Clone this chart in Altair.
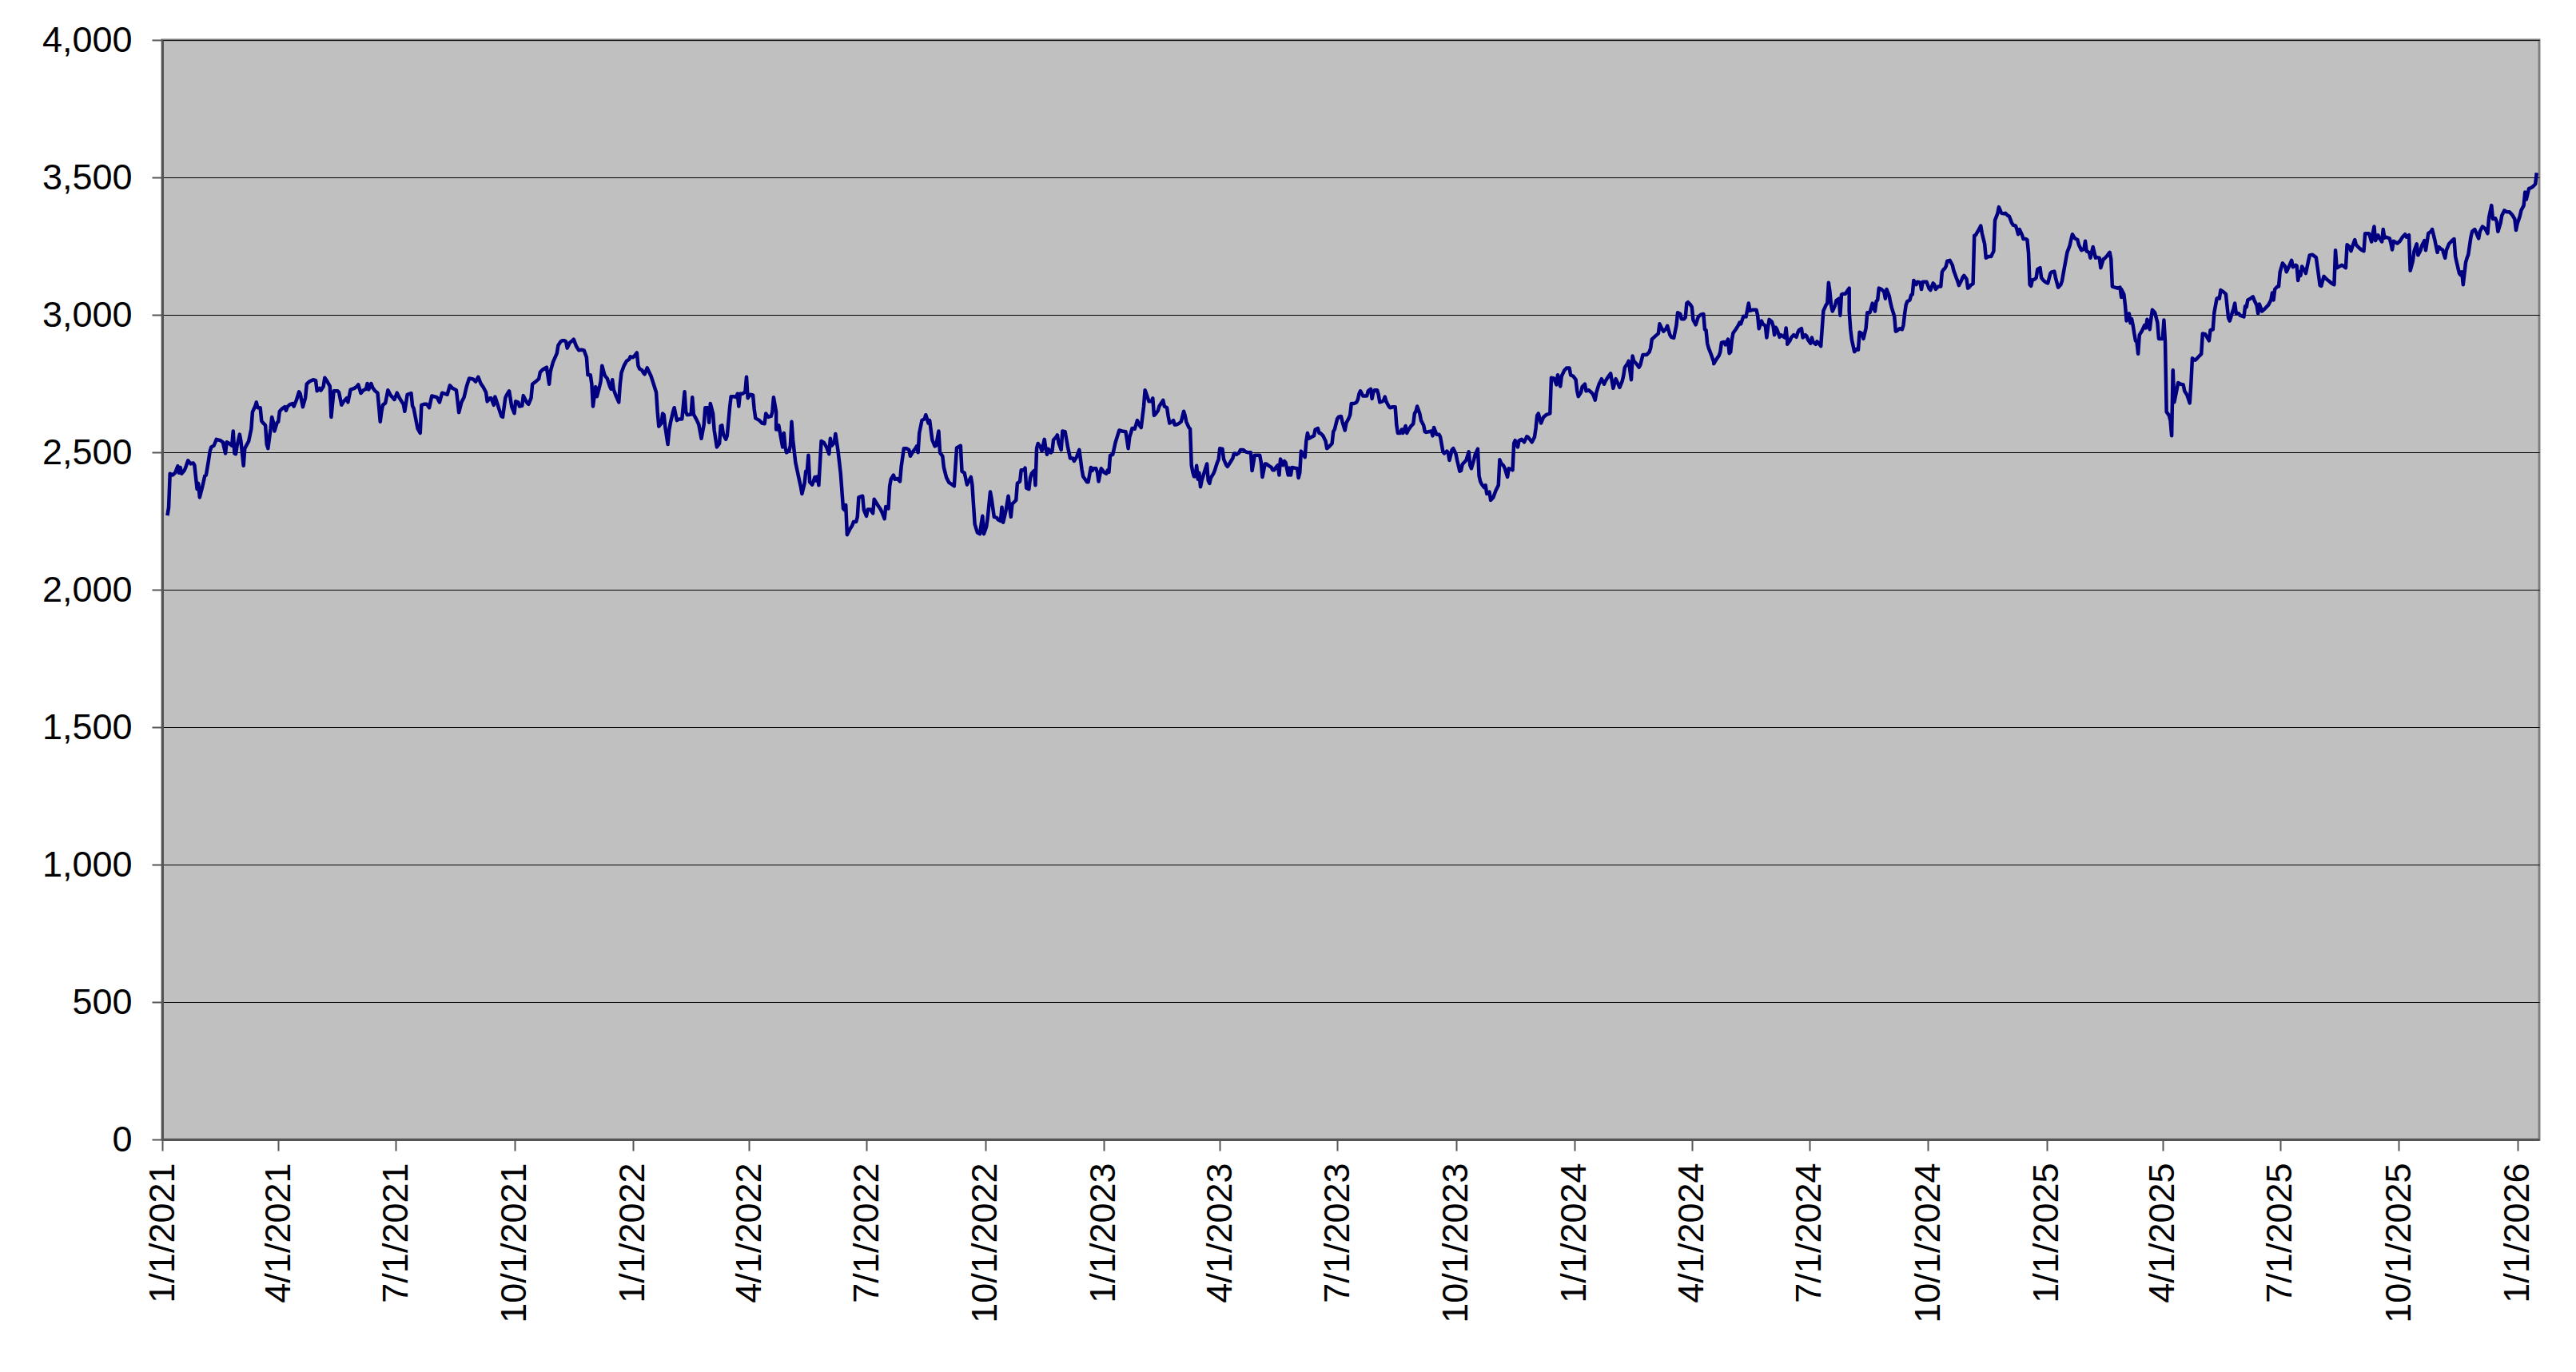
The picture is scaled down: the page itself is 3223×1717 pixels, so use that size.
import altair as alt
import pandas as pd

# (days since 2021-01-01, index value)
seg1 = [(4,2270),(5,2300),(6,2422),(8,2417),(10,2425),(12,2450),(13,2425),(14,2445),(15,2422),(17,2433),(18,2443),(20,2470),(22,2458),(24,2461),(25,2453),(27,2366),(28,2387),(29,2336),(31,2372),(33,2414),(34,2417),(36,2473),(37,2504),(38,2519),(40,2524),(42,2547),(45,2543),(47,2537),(49,2496),(50,2537),(52,2532),(54,2524),(55,2577),(56,2496),(57,2494),(58,2524),(60,2565),(61,2540),(63,2451),(64,2514),(67,2540),(69,2585),(70,2647),(72,2667),(73,2682),(74,2662),(76,2662),(77,2614),(78,2608),(80,2598),(81,2529),(82,2514),(84,2585),(85,2628),(86,2611),(87,2577),(89,2608),(90,2611),(91,2649),(93,2659),(95,2665),(96,2652),(97,2665),(99,2674),(101,2677),(102,2667),(104,2689),(106,2720),(107,2713),(109,2665),(111,2699),(112,2748),(114,2757),(117,2764),(119,2761),(120,2723),(122,2733),(123,2725),(125,2740),(126,2771),(128,2757),(130,2740),(131,2628),(133,2723),(136,2723),(137,2718),(139,2672),(141,2687),(143,2697),(144,2682),(146,2728),(149,2733),(151,2740),(152,2746),(154,2715),(156,2726),(158,2730),(159,2750),(160,2728),(162,2750),(163,2736),(165,2723),(167,2716),(168,2665),(169,2611),(170,2647),(171,2672),(173,2679),(175,2726),(177,2708),(180,2692),(182,2716),(184,2697),(186,2682),(187,2675),(188,2649),(190,2710),(193,2715),(194,2669),(195,2659),(197,2611),(198,2587),(200,2570),(201,2672),(203,2675),(205,2675),(207,2662),(209,2705),(213,2700),(215,2682),(217,2716),(219,2713),(221,2710),(223,2743),(225,2733),(228,2726),(230,2645),(232,2682),(234,2700),(236,2740),(238,2769),(241,2766),(243,2757),(245,2774),(247,2750),(249,2736),(251,2718),(252,2685),(254,2697),(255,2697),(257,2672),(258,2702),(259,2689),(261,2659),(263,2631),(264,2628),(266,2697),(267,2708),(269,2723),(271,2665),(273,2642),(274,2685),(276,2682),(277,2667),(279,2669),(280,2706),(282,2687),(283,2679),(284,2675),(286,2697),(287,2748),(290,2759),(292,2767),(293,2791),(295,2801),(298,2809),(300,2748),(301,2794),(303,2828),(306,2860),(307,2889),(309,2903),(310,2906)]

seg2 = [(312,2906),(313,2903),(314,2879),(316,2899),(318,2906),(319,2911),(321,2886),(323,2871),(325,2873),(327,2871),(329,2845),(330,2781),(332,2781),(333,2748),(334,2667),(336,2738),(337,2703),(339,2738),(340,2759),(341,2815),(343,2781),(344,2774),(345,2769),(347,2740),(348,2730),(349,2764),(350,2728),(352,2703),(354,2682),(355,2748),(356,2789),(358,2815),(360,2832),(362,2838),(363,2848),(365,2845),(366,2850),(368,2862),(369,2815),(370,2804),(372,2799),(373,2789),(374,2784),(376,2807),(377,2797),(379,2777),(381,2748),(383,2718),(384,2647),(385,2594),(387,2606),(388,2641),(389,2636),(390,2591),(392,2529),(393,2580),(394,2606),(396,2647),(397,2662),(399,2616),(401,2621),(403,2621),(405,2720),(406,2647),(407,2636),(410,2638),(411,2700),(412,2638),(414,2621),(416,2601),(418,2550),(420,2601),(421,2662),(422,2662),(423,2662),(424,2608),(425,2677),(427,2641),(428,2580),(430,2519),(432,2532),(433,2596),(434,2598),(435,2565),(437,2547),(438,2560),(440,2662),(441,2703),(443,2703),(445,2700),(446,2713),(447,2667),(448,2713),(450,2713),(452,2720),(453,2774),(454,2697),(456,2710),(458,2708),(459,2657),(460,2624),(463,2616),(465,2606),(467,2604),(468,2641),(470,2628),(472,2631),(473,2645),(474,2700),(476,2647),(476,2583),(478,2583),(478,2598),(480,2545),(481,2519),(482,2570),(483,2519),(484,2499),(486,2504),(487,2524),(488,2611),(489,2545),(491,2463),(494,2397),(495,2376),(496,2349),(498,2387),(499,2431),(500,2431),(501,2489),(502,2392),(504,2382),(506,2410),(507,2397),(508,2412),(509,2380),(510,2461),(511,2541),(513,2535),(515,2519),(517,2494),(518,2550),(519,2524),(521,2535),(522,2567),(524,2504),(526,2422),(528,2295),(529,2290),(530,2308),(531,2200),(533,2219),(535,2234),(536,2247),(538,2247),(539,2265),(540,2336),(543,2341),(544,2290),(546,2268),(547,2292),(549,2292),(551,2278),(552,2329),(555,2306),(557,2292),(558,2282),(560,2258),(561,2302),(563,2295),(564,2376),(565,2402),(567,2417),(568,2402),(570,2404),(572,2394),(573,2448),(575,2514),(577,2514),(579,2509),(580,2486),(582,2502),(584,2514),(585,2522),(586,2499),(587,2570),(589,2616),(591,2621),(592,2636),(594,2606),(595,2616),(597,2545),(599,2522),(600,2524),(602,2577),(603,2499),(605,2486),(606,2445),(608,2408),(610,2390),(612,2384),(614,2377),(616,2516),(619,2524)]

seg3 = [(620,2431),(622,2425),(624,2382),(625,2392),(627,2410),(628,2382),(629,2310),(630,2239),(632,2208),(634,2203),(635,2239),(636,2268),(637,2203),(639,2229),(640,2262),(642,2356),(643,2331),(645,2265),(647,2262),(648,2255),(650,2250),(651,2300),(652,2245),(654,2285),(656,2341),(657,2300),(658,2265),(659,2312),(661,2321),(662,2326),(663,2387),(665,2394),(666,2435),(668,2435),(669,2443),(670,2370),(672,2366),(673,2407),(674,2422),(676,2433),(677,2380),(678,2514),(679,2532),(681,2519),(682,2504),(684,2547),(685,2514),(686,2492),(687,2512),(689,2499),(690,2504),(691,2545),(693,2555),(694,2563),(695,2535),(697,2509),(698,2577),(700,2575),(702,2522),(704,2478),(706,2478),(707,2468),(709,2483),(710,2496),(711,2509),(713,2438),(714,2412),(717,2392),(718,2392),(720,2445),(721,2433),(722,2441),(724,2441),(725,2428),(726,2394),(728,2441),(729,2435),(730,2428),(732,2422),(733,2435),(734,2428),(735,2489),(737,2492),(739,2535),(741,2565),(742,2580),(744,2577),(747,2575),(748,2545),(749,2514),(750,2555),(751,2570),(752,2587),(754,2585),(755,2600),(756,2616),(758,2596),(759,2590),(761,2667),(762,2726),(763,2713),(765,2685),(767,2685),(768,2697),(769,2634),(770,2638),(772,2651),(773,2667),(775,2682),(776,2689),(777,2667),(779,2662),(780,2631),(781,2606),(783,2611),(784,2616),(785,2600),(786,2600),(788,2604),(790,2611),(792,2649),(793,2634),(794,2611),(796,2590),(797,2585),(798,2453),(799,2428),(800,2412),(801,2412),(802,2451),(803,2402),(804,2425),(805,2374),(806,2397),(808,2428),(810,2458),(811,2397),(812,2387),(813,2407),(815,2422),(816,2433),(818,2463),(819,2473),(820,2514),(821,2512),(822,2512),(823,2475),(825,2453),(826,2448),(828,2463),(830,2478),(831,2496),(832,2496),(833,2492),(835,2499),(836,2509),(838,2509),(840,2502),(842,2499),(844,2499),(845,2433),(847,2489),(849,2489),(851,2489),(852,2463),(853,2410),(855,2458),(856,2458),(858,2451),(860,2445),(861,2435),(862,2435),(864,2448),(865,2453),(866,2417),(867,2475),(869,2453),(870,2468),(871,2463),(873,2417),(874,2443),(875,2417),(876,2445),(878,2443),(880,2441),(881,2407),(882,2425),(883,2504),(885,2489),(886,2482),(887,2541),(888,2570),(889,2550),(891,2555),(893,2560),(894,2583),(896,2587),(897,2570),(898,2570),(900,2560),(902,2541),(903,2514),(905,2522),(907,2532),(908,2575),(909,2583),(911,2621),(912,2628),(914,2631),(915,2611),(917,2580),(918,2606),(920,2624),(921,2636),(922,2677)]

seg4 = [(924,2677),(926,2682),(927,2692),(928,2713),(929,2723),(931,2705),(932,2705),(934,2705),(935,2723),(937,2730),(938,2695),(939,2718),(940,2726),(942,2726),(943,2710),(944,2682),(946,2685),(947,2689),(948,2702),(949,2685),(951,2667),(952,2662),(954,2665),(956,2665),(957,2600),(958,2570),(960,2570),(961,2583),(962,2570),(964,2596),(965,2570),(966,2580),(968,2594),(970,2604),(971,2641),(972,2649),(973,2667),(975,2641),(976,2616),(978,2598),(979,2575),(980,2573),(982,2575),(984,2577),(985,2560),(986,2590),(988,2565),(990,2565),(991,2555),(993,2502),(994,2496),(996,2504),(997,2499),(998,2471),(1000,2509),(1001,2514),(1003,2494),(1004,2471),(1006,2431),(1007,2433),(1008,2455),(1009,2461),(1011,2471),(1013,2502),(1014,2453),(1015,2441),(1017,2473),(1018,2492),(1020,2512),(1021,2414),(1022,2394),(1023,2384),(1025,2372),(1026,2380),(1027,2349),(1029,2356),(1030,2326),(1032,2336),(1034,2361),(1036,2380),(1037,2473),(1038,2461),(1040,2451),(1041,2441),(1043,2410),(1044,2441),(1046,2438),(1047,2435),(1048,2532),(1049,2543),(1051,2519),(1052,2543),(1054,2547),(1056,2537),(1058,2557),(1059,2555),(1061,2543),(1062,2537),(1064,2555),(1065,2587),(1066,2634),(1067,2641),(1069,2606),(1071,2628),(1073,2636),(1076,2641),(1077,2771),(1079,2769),(1081,2746),(1082,2781),(1084,2740),(1085,2777),(1087,2797),(1089,2807),(1091,2807),(1092,2781),(1094,2777),(1096,2764),(1097,2723),(1098,2703),(1100,2718),(1101,2738),(1103,2748),(1104,2723),(1106,2726),(1108,2718),(1109,2713),(1110,2703),(1111,2690),(1112,2718),(1114,2748),(1116,2767),(1118,2748),(1119,2759),(1121,2774),(1123,2787),(1125,2733),(1127,2767),(1128,2757),(1130,2736),(1132,2759),(1133,2779),(1134,2809),(1136,2822),(1137,2832),(1139,2764),(1140,2850),(1141,2832),(1143,2822),(1145,2809),(1146,2817),(1148,2855),(1149,2855),(1151,2855),(1153,2865),(1154,2879),(1155,2911),(1158,2924),(1160,2932),(1161,2967),(1163,2947),(1164,2940),(1166,2950),(1167,2960),(1169,2927),(1170,2919),(1172,2916),(1174,2962),(1175,3008),(1177,3003),(1178,2985),(1180,2985),(1181,2991),(1182,3042),(1183,3046),(1185,3036),(1186,3028),(1187,2981),(1189,2964),(1191,2993),(1193,3001),(1195,3003),(1196,2947),(1197,2944),(1198,2896),(1199,2879),(1201,2855),(1203,2828),(1203,2822),(1205,2838),(1207,2852),(1208,2865),(1209,2899),(1211,2901),(1212,2891),(1213,2901),(1214,2911),(1215,2860),(1216,2865),(1217,2909),(1218,2934),(1220,2947),(1222,2962),(1223,2972),(1224,2967),(1226,2995),(1228,2993),(1229,3018),(1230,3042),(1231,3015),(1233,3018)]

seg5 = [(1236,3018),(1237,2998),(1238,2950),(1240,2978),(1241,2967),(1243,2960),(1244,2917),(1245,2954),(1246,2983),(1248,2975),(1249,2960),(1250,2927),(1251,2954),(1252,2947),(1254,2919),(1255,2927),(1256,2924),(1258,2917),(1259,2952),(1260,2906),(1260,2893),(1262,2906),(1263,2917),(1265,2927),(1267,2919),(1268,2934),(1269,2944),(1271,2950),(1272,2917),(1274,2927),(1275,2922),(1276,2909),(1278,2896),(1279,2917),(1280,2901),(1282,2893),(1283,2903),(1284,2899),(1286,2886),(1287,2952),(1288,3015),(1289,3025),(1290,3036),(1291,3042),(1292,3117),(1293,3084),(1294,3034),(1295,3013),(1297,3034),(1298,3052),(1300,3059),(1301,2998),(1302,3074),(1303,3076),(1305,3076),(1307,3090),(1308,3097),(1308,3013),(1309,2947),(1310,2909),(1312,2866),(1314,2876),(1315,2873),(1316,2937),(1318,2932),(1319,2913),(1321,2952),(1322,3008),(1324,3008),(1325,3025),(1326,3042),(1328,3013),(1329,3049),(1330,3054),(1331,3097),(1333,3093),(1335,3084),(1336,3059),(1337,3093),(1339,3069),(1340,3044),(1341,3025),(1343,2995),(1344,2940),(1345,2942),(1347,2950),(1349,2947),(1350,2962),(1351,3003),(1352,3036),(1353,3049),(1355,3054),(1356,3072),(1357,3074),(1358,3125),(1360,3110),(1361,3120),(1363,3117),(1364,3093),(1365,3120),(1368,3120),(1369,3107),(1370,3095),(1371,3090),(1373,3115),(1374,3110),(1375,3093),(1377,3103),(1379,3103),(1380,3156),(1381,3164),(1382,3168),(1383,3176),(1384,3196),(1386,3198),(1388,3181),(1389,3161),(1391,3135),(1392,3123),(1393,3107),(1395,3125),(1396,3137),(1397,3143),(1399,3130),(1400,3097),(1401,3100),(1402,3107),(1404,3113),(1405,3288),(1406,3290),(1408,3306),(1409,3314),(1410,3324),(1411,3296),(1413,3258),(1414,3207),(1416,3212),(1418,3212),(1419,3222),(1420,3232),(1421,3344),(1423,3368),(1424,3392),(1426,3370),(1428,3368),(1429,3370),(1431,3361),(1432,3359),(1433,3347),(1434,3334),(1435,3327),(1437,3324),(1438,3311),(1439,3293),(1440,3311),(1442,3291),(1443,3276),(1445,3276),(1446,3273),(1447,3227),(1448,3110),(1449,3105),(1450,3127),(1452,3130),(1453,3135),(1454,3166),(1456,3171),(1457,3135),(1459,3123),(1461,3117),(1462,3115),(1464,3151),(1465,3156),(1467,3158),(1468,3135),(1470,3100),(1472,3110),(1473,3123),(1475,3176),(1477,3227),(1479,3252),(1480,3273),(1481,3293),(1483,3278),(1485,3273),(1486,3255),(1488,3235),(1490,3239),(1491,3268),(1492,3232),(1494,3227),(1495,3207),(1497,3247),(1498,3227),(1499,3207),(1500,3209),(1502,3207),(1503,3171),(1505,3202),(1506,3205),(1508,3215),(1509,3222),(1510,3227),(1511,3202),(1512,3103),(1514,3100),(1516,3097),(1518,3100),(1519,3064),(1519,3093),(1521,3074),(1522,3034),(1523,2978),(1525,3005),(1526,2970),(1527,2985),(1528,2962),(1529,2932),(1530,2906),(1531,2901),(1532,2858),(1533,2927),(1535,2942),(1537,2962),(1538,2952),(1539,2983),(1541,2947),(1542,2985),(1543,3018)]

seg6 = [(1545,3008),(1547,2972),(1548,2913),(1549,2913),(1551,2913),(1552,2981),(1553,2901),(1554,2647),(1556,2634),(1557,2616),(1558,2560),(1559,2799),(1560,2682),(1562,2728),(1563,2753),(1565,2748),(1567,2746),(1568,2723),(1570,2708),(1572,2679),(1573,2748),(1574,2842),(1576,2835),(1577,2838),(1579,2848),(1581,2858),(1582,2932),(1584,2930),(1587,2906),(1588,2944),(1590,2947),(1591,3008),(1593,3059),(1594,3062),(1595,3059),(1596,3090),(1598,3084),(1600,3076),(1602,2988),(1603,2978),(1605,3008),(1606,3023),(1607,3042),(1608,3005),(1610,3005),(1611,2998),(1614,2993),(1615,3031),(1616,3028),(1617,3054),(1619,3059),(1621,3066),(1622,3054),(1624,3034),(1625,3005),(1626,3039),(1628,3013),(1630,3021),(1633,3036),(1635,3054),(1636,3080),(1637,3054),(1638,3093),(1640,3103),(1641,3103),(1642,3156),(1644,3188),(1646,3176),(1647,3156),(1649,3176),(1651,3198),(1652,3174),(1654,3181),(1655,3178),(1656,3125),(1657,3156),(1658,3143),(1659,3176),(1661,3161),(1662,3151),(1664,3196),(1665,3217),(1667,3219),(1670,3209),(1671,3176),(1673,3107),(1674,3105),(1675,3123),(1676,3140),(1678,3130),(1680,3123),(1682,3115),(1684,3110),(1685,3235),(1686,3171),(1688,3176),(1690,3181),(1693,3171),(1694,3255),(1696,3247),(1697,3232),(1699,3260),(1700,3273),(1701,3255),(1703,3245),(1705,3237),(1707,3232),(1708,3296),(1709,3296),(1711,3296),(1713,3266),(1714,3298),(1715,3321),(1716,3270),(1718,3290),(1719,3280),(1721,3266),(1722,3311),(1723,3280),(1724,3283),(1727,3278),(1728,3260),(1729,3237),(1730,3268),(1732,3263),(1733,3260),(1735,3268),(1737,3283),(1739,3293),(1740,3283),(1742,3290),(1743,3161),(1745,3196),(1746,3232),(1748,3258),(1749,3217),(1751,3235),(1752,3252),(1754,3270),(1755,3235),(1757,3296),(1759,3303),(1760,3311),(1762,3273),(1764,3227),(1765,3247),(1767,3239),(1768,3237),(1770,3207),(1771,3235),(1773,3258),(1775,3268),(1777,3276),(1778,3212),(1779,3191),(1781,3151),(1782,3145),(1783,3156),(1784,3110),(1786,3191),(1787,3207),(1788,3219),(1790,3283),(1791,3303),(1793,3311),(1794,3300),(1796,3278),(1797,3303),(1799,3321),(1801,3314),(1803,3296),(1804,3354),(1806,3398),(1807,3349),(1809,3351),(1810,3339),(1811,3303),(1813,3334),(1814,3361),(1816,3380),(1818,3374),(1820,3374),(1822,3364),(1824,3349),(1825,3308),(1826,3331),(1828,3359),(1829,3380),(1831,3398),(1832,3446),(1833,3420),(1835,3459),(1837,3463),(1838,3466),(1840,3476),(1841,3517)]

segments = [seg1, seg2, seg3, seg4, seg5, seg6]

start = pd.Timestamp("2021-01-01")
rows = []
k = 0
for seg in segments:
    for d, v in seg:
        rows.append({"i": k, "date": (start + pd.Timedelta(days=d)).strftime("%Y-%m-%d"), "value": v})
        k += 1
df = pd.DataFrame(rows)

y_ticks = [0, 500, 1000, 1500, 2000, 2500, 3000, 3500, 4000]
x_ticks = [(y, m) for y in range(2021, 2026) for m in (1, 4, 7, 10)] + [(2026, 1)]

FONT = "Liberation Sans"

x_axis = alt.Axis(
    values=[alt.DateTime(year=y, month=m, date=1, utc=True) for y, m in x_ticks],
    labelExpr="utcFormat(datum.value, '%-m/%-d/%Y')", labelAngle=-90,
    labelFont=FONT, labelFontSize=45, labelColor="#000000", labelPadding=15,
    labelLimit=600, labelFlush=False, labelOverlap=False,
    tickSize=14, tickColor="#555555", tickWidth=2,
    domainColor="#555555", domainWidth=3, grid=False, title=None,
)
y_axis = alt.Axis(
    values=y_ticks, format=",d",
    labelFont=FONT, labelFontSize=45, labelColor="#000000", labelPadding=25,
    tickSize=13, tickColor="#555555", tickWidth=2,
    domainColor="#555555", domainWidth=3,
    grid=True, gridColor="#000000", gridWidth=1, title=None,
)

chart = alt.Chart(df).mark_line(color="#000080", strokeWidth=4.5, strokeJoin="round").encode(
    x=alt.X("date:T", axis=x_axis, scale=alt.Scale(
        type="utc",
        domain=[alt.DateTime(year=2021, month=1, date=1, utc=True),
                alt.DateTime(year=2026, month=1, date=18, utc=True)])),
    y=alt.Y("value:Q", axis=y_axis, scale=alt.Scale(domain=[0, 4000], nice=False)),
    order=alt.Order("i:Q"),
).properties(
    width=2974, height=1376,
    padding={"left": 195, "top": 42, "right": 38, "bottom": 280},
    autosize=alt.AutoSizeParams(type="none"),
    background="#FFFFFF",
).configure_view(
    fill="#C0C0C0", stroke="#808080", strokeWidth=3,
)

chart.save("out.html", embed_options={"renderer": "svg", "actions": False})
